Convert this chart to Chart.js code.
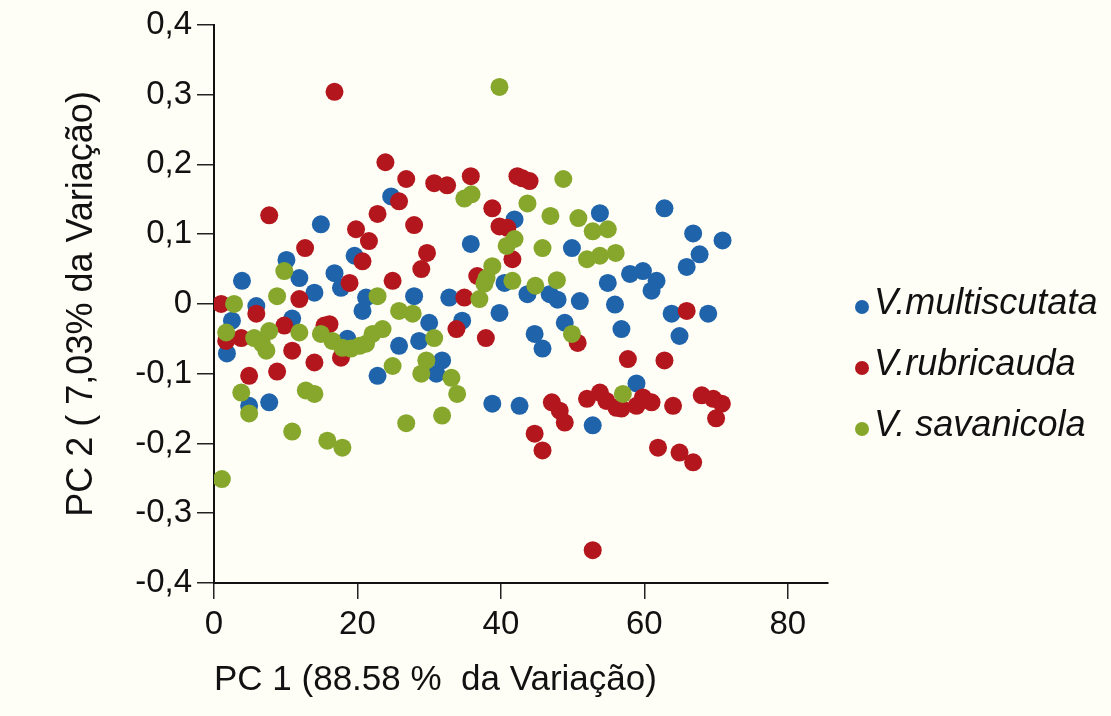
<!DOCTYPE html>
<html>
<head>
<meta charset="utf-8">
<script src="https://cdn.jsdelivr.net/npm/chart.js@4.4.1/dist/chart.umd.min.js"></script>
<style>
  html, body { margin: 0; padding: 0; background: #fefef6; }
</style>
</head>
<body>
<canvas id="myChart" width="1111" height="716"></canvas>
<script>
// series labels
const seriesNames = ["V.multiscutata", "V.rubricauda", "V. savanicola"];
const seriesColors = ["#1f63ab", "#b3171d", "#86a72b"];

// V.multiscutata
const multiscutataPC1 = [24.7, 14.9, 41.9, 35.8, 19.6, 10.1, 3.9, 11.9, 16.8, 17.7, 40.5, 14.0, 5.9, 20.7, 21.2, 27.9, 32.8, 39.8,
  1.8, 2.5, 10.9, 18.6, 25.8, 28.6, 30.0, 34.6, 22.8, 31.8, 31.0, 4.9, 7.7, 38.8, 42.6,
  53.8, 62.8, 66.8, 70.9, 67.7, 65.9, 49.9, 43.7, 46.8, 47.9, 51.0, 54.9, 58.0, 59.8, 61.7, 61.0, 55.9, 63.8, 68.9,
  64.9, 48.9, 44.7, 45.8, 56.8, 58.9, 52.8];
const multiscutataPC2 = [0.154, 0.114, 0.121, 0.086, 0.069, 0.063, 0.033, 0.037, 0.044, 0.023, 0.030, 0.016, -0.003, -0.010, 0.009, 0.011, 0.009, -0.013,
  -0.071, -0.024, -0.021, -0.050, -0.060, -0.053, -0.027, -0.024, -0.103, -0.081, -0.100, -0.146, -0.141, -0.143, -0.146,
  0.130, 0.137, 0.101, 0.091, 0.071, 0.053, 0.080, 0.014, 0.014, 0.006, 0.004, 0.030, 0.043, 0.047, 0.033, 0.019, -0.001, -0.014, -0.014,
  -0.046, -0.027, -0.043, -0.064, -0.036, -0.114, -0.174];

// V.rubricauda
const rubricaudaPC1 = [16.8, 23.9, 26.8, 30.7, 32.5, 35.8, 42.3, 25.8, 7.7, 22.8, 27.9, 38.8, 39.8, 40.9, 19.8, 21.6, 12.7, 29.7,
  28.9, 20.7, 41.6, 18.9, 24.9, 36.7, 1.0, 5.9, 11.9, 34.9, 43.0, 44.0, 65.9,
  3.8, 1.7, 9.8, 10.9, 4.9, 8.8, 14.0, 15.4, 16.1, 17.7, 33.8, 37.9,
  50.7, 57.7, 62.8, 47.1, 48.2, 48.9, 52.0, 53.8, 54.7, 56.1, 56.8, 58.9, 59.8, 61.0, 64.0, 68.0, 69.6, 70.8, 70.0,
  44.7, 45.8, 61.9, 64.9, 66.8, 52.8];
const rubricaudaPC2 = [0.304, 0.203, 0.179, 0.173, 0.170, 0.183, 0.183, 0.147, 0.127, 0.129, 0.113, 0.137, 0.111, 0.109, 0.107, 0.090, 0.080, 0.073,
  0.050, 0.061, 0.064, 0.030, 0.033, 0.040, 0.000, -0.014, 0.007, 0.009, 0.180, 0.176, -0.010,
  -0.049, -0.053, -0.031, -0.067, -0.103, -0.097, -0.084, -0.031, -0.029, -0.077, -0.036, -0.049,
  -0.056, -0.079, -0.081, -0.141, -0.153, -0.170, -0.136, -0.127, -0.139, -0.149, -0.150, -0.146, -0.134, -0.141, -0.146, -0.131, -0.136, -0.143, -0.164,
  -0.186, -0.210, -0.206, -0.213, -0.227, -0.353];

// V. savanicola
const savanicolaPC1 = [39.8, 34.9, 35.9, 40.8, 41.9, 9.8, 38.8, 37.7, 38.0, 41.6, 2.8, 8.8, 22.8, 37.0, 25.8, 27.7,
  1.7, 5.6, 6.7, 7.3, 7.7, 11.9, 14.9, 16.5, 17.9, 19.1, 20.3, 21.2, 22.1, 23.5, 30.7, 24.9, 29.6, 28.9, 33.1, 33.9,
  3.8, 4.9, 12.8, 14.0, 10.9, 15.8, 17.9, 26.8, 31.8, 1.1,
  48.7, 43.7, 46.9, 50.8, 52.8, 54.9, 45.8, 52.0, 53.8, 56.0, 44.8, 47.8, 49.9, 57.0];
const savanicolaPC2 = [0.311, 0.151, 0.157, 0.083, 0.093, 0.047, 0.054, 0.029, 0.037, 0.033, 0.000, 0.011, 0.011, 0.007, -0.010, -0.014,
  -0.041, -0.049, -0.057, -0.067, -0.039, -0.041, -0.043, -0.053, -0.063, -0.064, -0.060, -0.057, -0.043, -0.036, -0.049, -0.089, -0.081, -0.100, -0.106, -0.129,
  -0.127, -0.157, -0.124, -0.129, -0.183, -0.196, -0.206, -0.171, -0.160, -0.251,
  0.179, 0.144, 0.126, 0.123, 0.104, 0.107, 0.080, 0.064, 0.069, 0.073, 0.026, 0.034, -0.043, -0.129];

const fontFamily = "'Liberation Sans', Arial, sans-serif";

function toPoints(xs, ys) {
  return xs.map((x, i) => ({ x: x, y: ys[i] }));
}

const bgPlugin = {
  id: "canvasBg",
  beforeDraw: (chart) => {
    const { ctx } = chart;
    ctx.save();
    ctx.globalCompositeOperation = "destination-over";
    ctx.fillStyle = "#fefef6";
    ctx.fillRect(0, 0, chart.width, chart.height);
    ctx.restore();
  },
};

// legend drawn by hand to the right of the plot
const sideLegend = {
  id: "sideLegend",
  afterDraw: (chart) => {
    const { ctx } = chart;
    const rows = [307, 368, 429];
    ctx.save();
    ctx.font = "italic 36px " + fontFamily;
    ctx.textBaseline = "middle";
    ctx.textAlign = "left";
    seriesNames.forEach((name, i) => {
      ctx.fillStyle = seriesColors[i];
      ctx.beginPath();
      ctx.arc(862, rows[i], 7, 0, Math.PI * 2);
      ctx.fill();
      ctx.fillStyle = "#111";
      ctx.fillText(name, 874, rows[i] - 3);
    });
    ctx.restore();
  },
};

function makeSet(i, xs, ys, order) {
  return {
    label: seriesNames[i],
    data: toPoints(xs, ys),
    backgroundColor: seriesColors[i],
    borderColor: seriesColors[i],
    borderWidth: 0,
    pointRadius: 9,
    pointHoverRadius: 9,
    order: order,
  };
}

const ctx = document.getElementById("myChart");

var chart = new Chart(ctx, {
  type: "scatter",
  data: {
    datasets: [
      makeSet(0, multiscutataPC1, multiscutataPC2, 3),
      makeSet(1, rubricaudaPC1, rubricaudaPC2, 2),
      makeSet(2, savanicolaPC1, savanicolaPC2, 1),
    ],
  },
  options: {
    responsive: false,
    animation: false,
    layout: { padding: { top: 23, right: 283, left: 0, bottom: 0 } },
    plugins: {
      legend: { display: false },
      tooltip: { enabled: false },
    },
    scales: {
      x: {
        type: "linear",
        min: 0,
        max: 85.6,
        ticks: {
          stepSize: 20,
          includeBounds: false,
          color: "#111",
          padding: 6,
          maxRotation: 0,
          font: { size: 33, family: fontFamily },
        },
        grid: { drawOnChartArea: false, tickLength: 16, color: "#222", lineWidth: 1.5 },
        border: { color: "#111", width: 2 },
        title: {
          display: true,
          text: "PC 1 (88.58 %  da Variação)",
          align: "start",
          color: "#111",
          font: { size: 35, family: fontFamily },
          padding: { top: 0, bottom: 15 },
        },
        afterFit: (s) => { s.height = 133; },
      },
      y: {
        type: "linear",
        min: -0.4,
        max: 0.4,
        ticks: {
          stepSize: 0.1,
          color: "#111",
          padding: 5,
          font: { size: 33, family: fontFamily },
          callback: (v) => {
            let r = Math.round(v * 10) / 10;
            if (r === 0) return "0";
            return r.toFixed(1).replace(".", ",");
          },
        },
        grid: { drawOnChartArea: false, tickLength: 17, color: "#222", lineWidth: 1.5 },
        border: { color: "#111", width: 2 },
        title: {
          display: true,
          text: "PC 2 ( 7,03% da Variação)",
          color: "#111",
          font: { size: 36, family: fontFamily },
          padding: { top: 60, bottom: 0 },
        },
        afterFit: (s) => { s.width = 214; },
      },
    },
  },
  plugins: [bgPlugin, sideLegend],
});
</script>
</body>
</html>
